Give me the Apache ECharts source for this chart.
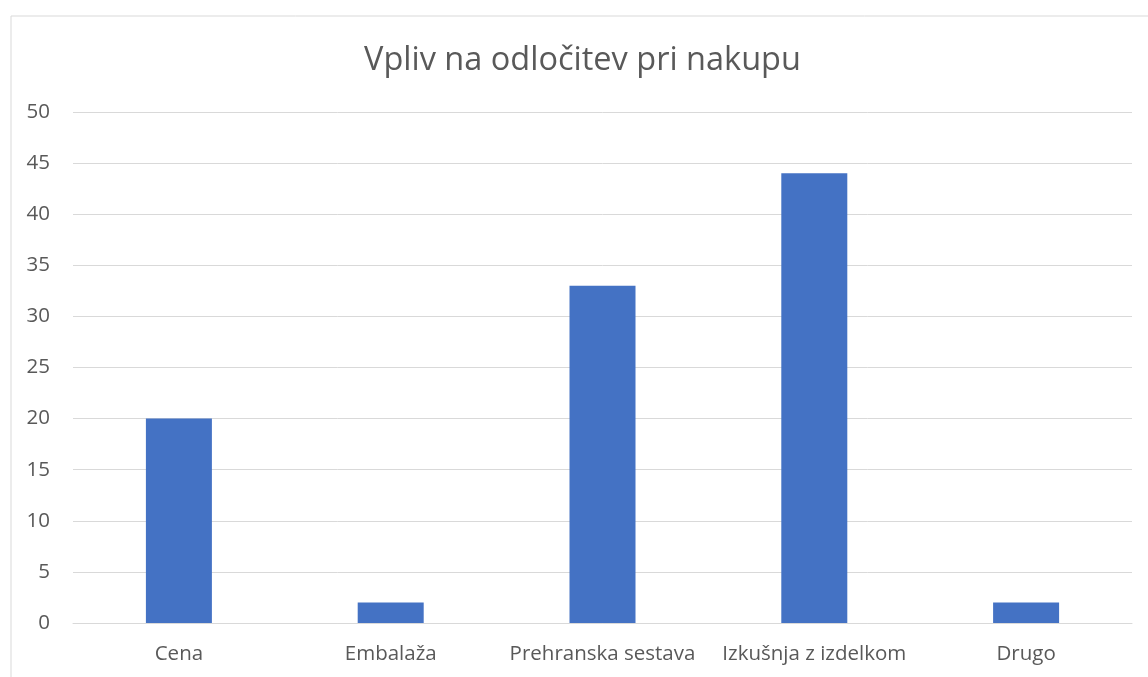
<!DOCTYPE html>
<html>
<head>
<meta charset="utf-8">
<script src="https://cdn.jsdelivr.net/npm/echarts@6/dist/echarts.min.js"></script>
<style>
html,body{margin:0;padding:0;background:#fff;}
#c{width:1148px;height:677px;}
</style>
</head>
<body>
<div id="c"></div>
<script>
const titleText = 'Vpliv na odločitev pri nakupu';
const categories = ['Cena', 'Embalaža', 'Prehranska sestava', 'Izkušnja z izdelkom', 'Drugo'];
const values = [20, 2, 33, 44, 2];
const yMin = 0, yMax = 50, yStep = 5;

const chart = echarts.init(document.getElementById('c'), null, {renderer: 'canvas'});
const font = '"Open Sans", "Noto Sans", sans-serif';
chart.setOption({
  animation: false,
  backgroundColor: '#fff',
  graphic: [{
    type: 'rect', left: 8.5, top: 13.5, silent: true,
    shape: {width: 1200, height: 700},
    style: {fill: 'none', stroke: '#d9d9d9', lineWidth: 1}
  }],
  title: {
    text: titleText, left: 359, top: 39,
    textStyle: {fontFamily: font, fontSize: 32.5, fontWeight: 'normal', color: '#595959'}
  },
  grid: {left: 73, right: 16, top: 112, bottom: 54, containLabel: false},
  xAxis: {
    type: 'category', data: categories,
    axisLine: {lineStyle: {color: '#d9d9d9', width: 1}},
    axisTick: {show: false},
    axisLabel: {fontFamily: font, fontSize: 20.5, color: '#595959', margin: 21, interval: 0}
  },
  yAxis: {
    type: 'value', min: yMin, max: yMax, interval: yStep,
    axisLine: {show: false}, axisTick: {show: false},
    splitLine: {lineStyle: {color: '#d9d9d9', width: 1}},
    axisLabel: {fontFamily: font, fontSize: 20.5, color: '#595959', margin: 23}
  },
  series: [{
    type: 'bar', data: values, barWidth: 66,
    itemStyle: {color: '#4472c4'}
  }]
});
</script>
</body>
</html>
